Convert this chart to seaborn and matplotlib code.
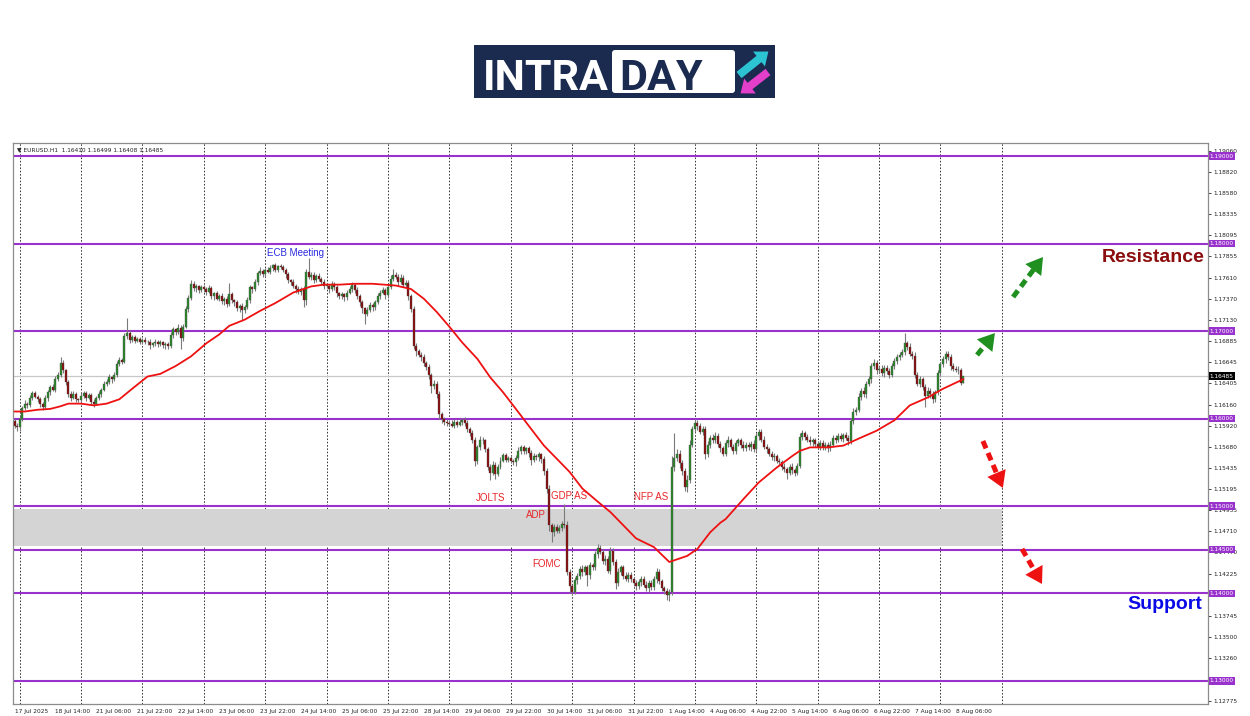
import numpy as np
import matplotlib
matplotlib.use("Agg")
import matplotlib.pyplot as plt
import matplotlib.transforms as mtransforms
from matplotlib.patches import Rectangle, FancyBboxPatch, FancyArrow
import seaborn as sns

# EURUSD H1, 17 Jul 22:00 .. 8 Aug 09:00 (one row per trading day)
first_open = 1.1597
closes = [
    1.1592, 1.1590,  # 17 Jul
    1.1600, 1.1612, 1.1617, 1.1615, 1.1624, 1.1629, 1.1625, 1.1622, 1.1617, 1.1613, 1.1623, 1.1630,
    1.1636, 1.1633, 1.1645, 1.1650, 1.1664, 1.1655, 1.1642, 1.1628, 1.1624, 1.1628, 1.1622, 1.1621,  # 18 Jul
    1.1626, 1.1629, 1.1624, 1.1627, 1.1619, 1.1617, 1.1624, 1.1628, 1.1633, 1.1640, 1.1642, 1.1647,
    1.1645, 1.1650, 1.1662, 1.1667, 1.1665, 1.1694, 1.1698, 1.1690, 1.1693, 1.1689, 1.1691, 1.1688,  # 21 Jul
    1.1690, 1.1687, 1.1688, 1.1684, 1.1686, 1.1688, 1.1685, 1.1687, 1.1684, 1.1685, 1.1683, 1.1695,
    1.1702, 1.1699, 1.1704, 1.1692, 1.1705, 1.1725, 1.1738, 1.1754, 1.1749, 1.1751, 1.1747, 1.1750,  # 22 Jul
    1.1748, 1.1745, 1.1749, 1.1740, 1.1743, 1.1737, 1.1740, 1.1734, 1.1737, 1.1731, 1.1742, 1.1735,
    1.1733, 1.1726, 1.1729, 1.1724, 1.1727, 1.1735, 1.1750, 1.1748, 1.1756, 1.1766, 1.1769, 1.1765,  # 23 Jul
    1.1770, 1.1768, 1.1772, 1.1775, 1.1770, 1.1774, 1.1773, 1.1770, 1.1765, 1.1758, 1.1756, 1.1752,
    1.1748, 1.1745, 1.1748, 1.1735, 1.1768, 1.1762, 1.1764, 1.1758, 1.1763, 1.1760, 1.1756, 1.1752,  # 24 Jul
    1.1752, 1.1748, 1.1754, 1.1750, 1.1743, 1.1740, 1.1742, 1.1739, 1.1744, 1.1748, 1.1753, 1.1747,
    1.1740, 1.1733, 1.1726, 1.1720, 1.1724, 1.1730, 1.1727, 1.1733, 1.1740, 1.1744, 1.1747, 1.1741,  # 25 Jul
    1.1750, 1.1760, 1.1764, 1.1762, 1.1756, 1.1761, 1.1753, 1.1755, 1.1740, 1.1725, 1.1683, 1.1677,
    1.1673, 1.1670, 1.1663, 1.1659, 1.1650, 1.1637, 1.1640, 1.1628, 1.1605, 1.1599, 1.1596, 1.1595,  # 28 Jul
    1.1594, 1.1592, 1.1596, 1.1593, 1.1596, 1.1598, 1.1595, 1.1588, 1.1584, 1.1575, 1.1551, 1.1567,
    1.1576, 1.1575, 1.1565, 1.1545, 1.1538, 1.1547, 1.1537, 1.1545, 1.1552, 1.1558, 1.1553, 1.1555,  # 29 Jul
    1.1552, 1.1550, 1.1555, 1.1563, 1.1567, 1.1563, 1.1566, 1.1561, 1.1553, 1.1557, 1.1556, 1.1559,
    1.1554, 1.1540, 1.1520, 1.1478, 1.1470, 1.1476, 1.1472, 1.1475, 1.1480, 1.1478, 1.1425, 1.1408,  # 30 Jul
    1.1402, 1.1415, 1.1420, 1.1428, 1.1424, 1.1430, 1.1421, 1.1432, 1.1430, 1.1445, 1.1452, 1.1448,
    1.1437, 1.1440, 1.1426, 1.1449, 1.1436, 1.1412, 1.1425, 1.1430, 1.1420, 1.1417, 1.1421, 1.1416,  # 31 Jul
    1.1412, 1.1408, 1.1413, 1.1417, 1.1410, 1.1406, 1.1412, 1.1407, 1.1416, 1.1425, 1.1414, 1.1406,
    1.1403, 1.1398, 1.1402, 1.1545, 1.1555, 1.1560, 1.1549, 1.1540, 1.1522, 1.1530, 1.1570, 1.1588,  # 1 Aug
    1.1595, 1.1591, 1.1585, 1.1588, 1.1559, 1.1570, 1.1578, 1.1575, 1.1580, 1.1571, 1.1566, 1.1560,
    1.1572, 1.1575, 1.1568, 1.1563, 1.1572, 1.1575, 1.1570, 1.1566, 1.1570, 1.1567, 1.1571, 1.1565,  # 4 Aug
    1.1580, 1.1585, 1.1576, 1.1568, 1.1565, 1.1560, 1.1556, 1.1557, 1.1552, 1.1550, 1.1545, 1.1542,
    1.1538, 1.1545, 1.1541, 1.1538, 1.1546, 1.1579, 1.1583, 1.1579, 1.1576, 1.1573, 1.1575, 1.1571,  # 5 Aug
    1.1568, 1.1572, 1.1567, 1.1570, 1.1566, 1.1570, 1.1578, 1.1576, 1.1580, 1.1577, 1.1581, 1.1578,
    1.1574, 1.1597, 1.1608, 1.1610, 1.1625, 1.1632, 1.1628, 1.1640, 1.1645, 1.1660, 1.1664, 1.1655,  # 6 Aug
    1.1657, 1.1652, 1.1658, 1.1654, 1.1650, 1.1660, 1.1666, 1.1670, 1.1673, 1.1676, 1.1686, 1.1682,
    1.1674, 1.1672, 1.1650, 1.1640, 1.1645, 1.1636, 1.1626, 1.1632, 1.1628, 1.1622, 1.1630, 1.1652,  # 7 Aug
    1.1662, 1.1668, 1.1674, 1.1670, 1.1660, 1.1657, 1.1656, 1.1655, 1.1641, 1.16485,  # 8 Aug
]

# wick lengths in pips above / below the body
wick_up = [
    2, 3,
    3, 2, 4, 2, 3, 2, 3, 2, 3, 2, 4, 3, 2, 3, 4, 3, 6, 3, 2, 2, 3, 4, 2, 2,
    3, 2, 3, 2, 2, 3, 2, 3, 2, 3, 3, 4, 2, 3, 4, 3, 2, 4, 17, 3, 2, 3, 2, 2,
    2, 3, 2, 3, 2, 3, 2, 3, 2, 2, 3, 4, 3, 2, 4, 3, 3, 4, 3, 4, 3, 3, 2, 3,
    3, 2, 4, 3, 2, 3, 2, 3, 2, 3, 13, 3, 2, 3, 2, 3, 3, 4, 3, 2, 3, 3, 4, 2,
    2, 3, 3, 2, 3, 2, 3, 2, 2, 3, 2, 3, 2, 3, 2, 4, 3, 15, 3, 3, 2, 3, 2, 3,
    3, 2, 3, 2, 3, 2, 3, 2, 3, 4, 3, 2, 3, 2, 3, 2, 3, 3, 2, 3, 4, 3, 3, 2,
    3, 4, 7, 3, 3, 4, 3, 3, 3, 2, 4, 3, 3, 3, 4, 3, 3, 2, 4, 3, 3, 2, 3, 3,
    3, 4, 3, 2, 3, 3, 4, 3, 2, 3, 4, 3, 4, 3, 2, 3, 3, 4, 3, 3, 4, 3, 3, 2,
    3, 2, 3, 4, 3, 3, 2, 3, 3, 4, 3, 3, 2, 3, 4, 4, 3, 4, 3, 3, 3, 22, 5, 3,
    3, 4, 3, 3, 4, 3, 3, 4, 3, 4, 5, 3, 3, 4, 3, 4, 3, 3, 4, 3, 3, 4, 3, 3,
    3, 3, 4, 3, 3, 4, 3, 3, 4, 4, 3, 3, 3, 3, 3, 12, 28, 5, 4, 4, 4, 5, 6, 4,
    4, 3, 4, 3, 3, 4, 3, 4, 5, 3, 3, 3, 4, 5, 3, 3, 4, 3, 3, 4, 3, 3, 3, 4,
    4, 3, 3, 4, 3, 3, 3, 4, 3, 3, 3, 4, 3, 3, 4, 3, 3, 5, 4, 3, 3, 4, 3, 3,
    3, 3, 4, 3, 3, 4, 3, 3, 4, 3, 3, 4, 3, 4, 4, 3, 4, 3, 4, 3, 4, 3, 4, 3,
    3, 4, 3, 3, 4, 3, 3, 4, 3, 3, 12, 3, 4, 3, 4, 3, 4, 3, 3, 4, 3, 4, 3, 4,
    3, 4, 3, 3, 4, 3, 3, 4, 3, 0.14,
]
wick_dn = [
    3, 4,
    4, 3, 2, 3, 2, 3, 2, 3, 4, 3, 2, 3, 3, 2, 3, 2, 3, 3, 4, 3, 4, 2, 3, 2,
    3, 3, 4, 2, 3, 4, 2, 3, 3, 2, 3, 2, 4, 2, 3, 2, 3, 2, 3, 4, 3, 3, 2, 3,
    3, 2, 3, 4, 2, 3, 3, 2, 3, 4, 4, 2, 3, 3, 2, 13, 3, 2, 3, 2, 3, 4, 3, 2,
    3, 4, 2, 3, 4, 2, 3, 3, 4, 3, 2, 3, 4, 3, 4, 11, 3, 2, 3, 4, 2, 3, 2, 3,
    3, 2, 3, 3, 2, 3, 2, 3, 4, 3, 3, 3, 4, 3, 4, 7, 5, 3, 4, 3, 2, 3, 3, 4,
    3, 4, 2, 3, 4, 3, 3, 5, 3, 2, 3, 4, 3, 4, 5, 12, 3, 2, 4, 3, 2, 3, 2, 4,
    3, 2, 3, 3, 4, 2, 3, 3, 4, 3, 4, 5, 3, 4, 3, 4, 5, 8, 3, 4, 5, 4, 3, 3,
    3, 2, 3, 3, 2, 3, 4, 3, 4, 3, 5, 3, 3, 4, 3, 4, 8, 3, 6, 3, 3, 2, 3, 3,
    3, 3, 4, 2, 3, 3, 3, 5, 6, 3, 3, 4, 5, 4, 5, 6, 11, 4, 3, 3, 3, 3, 4, 8,
    4, 3, 4, 3, 4, 3, 12, 4, 3, 3, 4, 3, 3, 4, 3, 4, 3, 7, 3, 4, 3, 3, 4, 3,
    3, 4, 3, 4, 3, 3, 4, 3, 3, 4, 3, 3, 4, 5, 7, 4, 5, 4, 5, 4, 5, 6, 4, 3,
    3, 4, 3, 4, 5, 3, 4, 3, 3, 4, 4, 3, 3, 4, 3, 4, 3, 3, 4, 3, 3, 3, 4, 3,
    3, 4, 3, 3, 4, 3, 3, 4, 3, 3, 4, 3, 7, 3, 4, 4, 3, 3, 4, 3, 3, 3, 4, 3,
    3, 4, 3, 3, 4, 3, 3, 4, 3, 3, 4, 3, 4, 3, 3, 4, 3, 4, 3, 4, 3, 4, 3, 4,
    3, 3, 4, 3, 4, 3, 3, 4, 3, 3, 3, 4, 3, 4, 4, 3, 4, 3, 13, 3, 4, 4, 3, 3,
    3, 3, 4, 3, 4, 3, 3, 4, 3, 0.02,
]

# red moving average (bar number, price)
ma_bar = [0, 4, 9, 14, 18, 21, 26, 31, 36, 41, 46, 52, 57, 63, 69, 75, 80, 84, 90, 96,
          102, 109, 116, 121, 127, 133, 140, 149, 155, 160, 165, 170, 175, 181, 186, 191, 196, 202, 207, 212,
          217, 222, 228, 233, 238, 243, 250, 256, 263, 267, 272, 276, 278, 285, 291, 298, 304, 307, 311, 318,
          324, 330, 337, 344, 350, 357, 363, 371]
ma_val = [1.1608, 1.1608, 1.1610, 1.1611, 1.1614, 1.1617, 1.1617, 1.1615, 1.1617, 1.1622,
          1.1634, 1.1648, 1.1651, 1.1660, 1.1671, 1.1686, 1.1696, 1.1706, 1.1713, 1.1723,
          1.1732, 1.1744, 1.1751, 1.1753, 1.1753, 1.1754, 1.1754, 1.1752, 1.1748, 1.1737,
          1.1722, 1.1705, 1.1687, 1.1668, 1.1647, 1.1630, 1.1611, 1.1588, 1.1569, 1.1554,
          1.1539, 1.1520, 1.1505, 1.1493, 1.1478, 1.1463, 1.1453, 1.1436, 1.1443, 1.1451,
          1.1470, 1.1481, 1.1485, 1.1508, 1.1527, 1.1544, 1.1557, 1.1563, 1.1567, 1.1567,
          1.1569, 1.1577, 1.1586, 1.1598, 1.1615, 1.1624, 1.1634, 1.1645]

time_labels = ['17 Jul 2025', '18 Jul 14:00', '21 Jul 06:00', '21 Jul 22:00', '22 Jul 14:00', '23 Jul 06:00',
               '23 Jul 22:00', '24 Jul 14:00', '25 Jul 06:00', '25 Jul 22:00', '28 Jul 14:00', '29 Jul 06:00',
               '29 Jul 22:00', '30 Jul 14:00', '31 Jul 06:00', '31 Jul 22:00', '1 Aug 14:00', '4 Aug 06:00',
               '4 Aug 22:00', '5 Aug 14:00', '6 Aug 06:00', '6 Aug 22:00', '7 Aug 14:00', '8 Aug 06:00']
price_ticks = [1.12775, 1.13020, 1.13260, 1.13500, 1.13745, 1.13985, 1.14225, 1.14470, 1.14710,
               1.14955, 1.15195, 1.15435, 1.15680, 1.15920, 1.16160, 1.16405, 1.16645, 1.16885,
               1.17130, 1.17370, 1.17610, 1.17855, 1.18095, 1.18335, 1.18580, 1.18820, 1.19060]
levels = [1.19, 1.18, 1.17, 1.16, 1.15, 1.145, 1.14, 1.13]
last_price = 1.16485
zone_low, zone_high = 1.1454, 1.1497

events = ['ECB Meeting', 'JOLTS', 'GDP AS', 'ADP', 'FOMC', 'NFP AS']
event_bar = [110, 186, 217, 204, 208, 249]
event_price = [1.1789, 1.1509, 1.1511, 1.1490, 1.1434, 1.1510]

PIP = 0.0001
BARS_PER_LABEL = 16
BARS_PER_DAY = 24
first_midnight = 2      # 17 Jul has only the 22:00 and 23:00 bars
purple = '#9932cc'
up_col, dn_col, wick_col = '#2a8a2a', '#8b0a0a', '#7a7a7a'

o = np.r_[first_open, closes[:-1]]
c = np.array(closes)
body_top = np.maximum(o, c)
body_bot = np.minimum(o, c)
hi = body_top + np.array(wick_up) * PIP
lo = body_bot - np.array(wick_dn) * PIP
bars = np.arange(len(c))

sns.set_style("white")
plt.rcParams['font.family'] = ['DejaVu Sans']

fig = plt.figure(figsize=(12.5, 7.16), dpi=100)
ax = fig.add_axes([13 / 1250, 1 - 704 / 716, 1195 / 1250, 561 / 716])
ax.set_xlim(-0.59, 466.6)
ax.set_ylim(1.12737, 1.19149)

# day separators
for d in np.arange(first_midnight, 390, BARS_PER_DAY):
    ax.axvline(d, color='#333333', lw=0.7, ls=(0, (1.6, 1.8)), zorder=1)

# support zone
ax.fill_between([-1, first_midnight + 16 * BARS_PER_DAY], zone_low, zone_high,
                color='#d4d4d4', lw=0, zorder=1)

ax.axhline(last_price, color='#c8c8c8', lw=0.9, zorder=1)
for lv in levels:
    ax.axhline(lv, color=purple, lw=1.5, zorder=2)

# candles
ax.vlines(bars, lo, hi, color=wick_col, lw=0.8, zorder=3)
colors = np.where(c >= o, up_col, dn_col)
ax.bar(bars, np.maximum(body_top - body_bot, 0.00004), bottom=body_bot, width=0.78,
       color=colors, edgecolor='#4a4a4a', linewidth=0.25, zorder=4)

sns.lineplot(x=ma_bar, y=ma_val, color='#ee1111', lw=1.3, ax=ax, zorder=5)

# axes styling
for s in ax.spines.values():
    s.set_color('#8c8c8c')
    s.set_linewidth(0.9)
ax.yaxis.tick_right()
ax.set_yticks(price_ticks)
# labels that sit under a level box are hidden, as on the terminal
ax.set_yticklabels(['' if min(abs(t - lv) for lv in levels) < 0.00025 else f'{t:.5f}'
                    for t in price_ticks])
ax.set_xticks(np.arange(len(time_labels)) * BARS_PER_LABEL)
ax.set_xticklabels(time_labels)
ax.tick_params(axis='y', length=2.5, width=0.6, pad=1.5, labelsize=4.2, colors='#222222')
ax.tick_params(axis='x', length=2.5, width=0.6, pad=1, labelsize=4.2, colors='#222222')
for lab in ax.get_xticklabels():
    lab.set_horizontalalignment('left')
ax.set_xlabel('')
ax.set_ylabel('')
ax.grid(False)

# right side price boxes
trans = mtransforms.blended_transform_factory(ax.transAxes, ax.transData)
for lv in levels:
    ax.text(1.0015, lv, f'{lv:.5f}', transform=trans, fontsize=4.2, color='white', va='center', ha='left',
            bbox=dict(boxstyle='square,pad=0.2', fc=purple, ec='none'), clip_on=False, zorder=10)
ax.text(1.0015, last_price, f'{last_price:.5f}', transform=trans, fontsize=4.2, color='white',
        va='center', ha='left', bbox=dict(boxstyle='square,pad=0.2', fc='black', ec='none'),
        clip_on=False, zorder=10)

ax.text(0.0035, 0.9875, '\u25bc EURUSD.H1  1.16410 1.16499 1.16408 1.16485', transform=ax.transAxes,
        fontsize=4.2, color='#222222', va='center', ha='left')

# event labels
for name, b, p in zip(events, event_bar, event_price):
    col = '#2a2ae0' if name == 'ECB Meeting' else '#e8262a'
    ax.text(b, p, name, fontsize=7, color=col, ha='center', va='center', zorder=6,
            family=['Liberation Sans', 'DejaVu Sans'])

ax.text(465.3, 1.17846, 'Resistance', fontsize=14, fontweight='bold', color='#8b0d0d', ha='right',
        va='center', family=['Liberation Sans', 'DejaVu Sans'], zorder=6)
ax.text(464.2, 1.13869, 'Support', fontsize=14, fontweight='bold', color='#0a0ae6', ha='right',
        va='center', family=['Liberation Sans', 'DejaVu Sans'], zorder=6)

# dashed scenario arrows
arrows = [((376.3, 1.16726), (383.3, 1.16977), '#1f8f1f'),
          ((390.4, 1.17389), (402.1, 1.17846), '#1f8f1f'),
          ((378.6, 1.15743), (386.4, 1.15206), '#ee1111'),
          ((393.9, 1.14509), (401.7, 1.14109), '#ee1111')]
for (x0, y0), (x1, y1), col in arrows:
    xm, ym = x0 + 0.72 * (x1 - x0), y0 + 0.72 * (y1 - y0)
    ax.plot([x0, xm], [y0, ym], color=col, lw=3.6, ls=(0, (1.6, 1.0)), solid_capstyle='butt',
            dash_capstyle='butt', zorder=6)
    ax.annotate('', xy=(x1, y1), xytext=(x0 + 0.55 * (x1 - x0), y0 + 0.55 * (y1 - y0)),
                arrowprops=dict(arrowstyle='-|>,head_length=0.9,head_width=0.55', color=col, lw=0,
                                mutation_scale=13, shrinkA=0, shrinkB=0), zorder=7)

# logo
lg = fig.add_axes([474 / 1250, 1 - 98 / 716, 301 / 1250, 53 / 716])
lg.set_xlim(0, 301)
lg.set_ylim(53, 0)
lg.axis('off')
navy = '#1b2b50'
lg.add_patch(Rectangle((0, 0), 301, 53, color=navy))
lg.add_patch(FancyBboxPatch((138, 5), 123, 43, boxstyle='round,pad=0,rounding_size=3', fc='white', ec='none'))
lg.text(9, 45, 'INTRA', color='white', fontsize=31, fontweight='bold', ha='left', va='baseline',
        family=['Roboto', 'DejaVu Sans'])
lg.text(145, 45, 'DAY', color=navy, fontsize=31, fontweight='bold', ha='left', va='baseline',
        family=['Roboto', 'DejaVu Sans'])
lg.add_patch(FancyArrow(265, 30, 20, -16, width=8, head_width=19, head_length=12,
                        length_includes_head=False, color='#2cc3d3', lw=0))
lg.add_patch(FancyArrow(294, 27, -18, 14, width=8, head_width=19, head_length=12,
                        length_includes_head=False, color='#e43fca', lw=0))

fig.savefig('out.png', dpi=100)
